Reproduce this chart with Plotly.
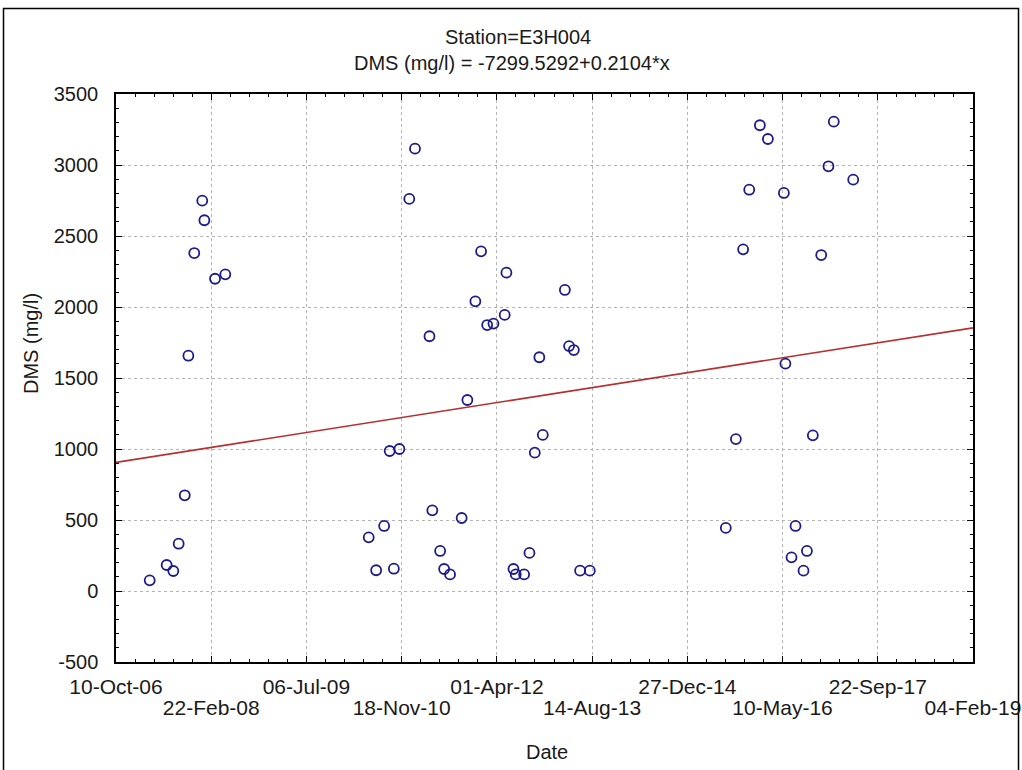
import plotly.graph_objects as go

# ---- data (x = Excel serial date, y = DMS mg/l) ----
date_serial = [
    39177, 39266, 39301, 39329, 39361, 39380, 39411, 39453, 39464, 39520, 39574,
    40327, 40366, 40408, 40437, 40459, 40488, 40540, 40570, 40646, 40661, 40702,
    40723, 40754, 40815, 40845, 40887, 40917, 40949, 40982, 41041, 41050, 41087,
    41099, 41143, 41171, 41199, 41223, 41241, 41357, 41379, 41404, 41437, 41488,
    42202, 42255, 42293, 42325, 42381, 42423, 42507, 42515, 42547, 42568, 42610,
    42628, 42659, 42703, 42741, 42769, 42871,
]
dms_values = [
    75, 183, 141, 333, 674, 1657, 2380, 2749, 2611, 2199, 2230,
    378, 146, 458, 986, 157, 1000, 2761, 3115, 1794, 568, 282,
    155, 117, 514, 1345, 2040, 2392, 1873, 1883, 1944, 2242, 155,
    117, 117, 268, 974, 1646, 1099, 2120, 1725, 1697, 143, 143,
    444, 1070, 2406, 2826, 3280, 3183, 2803, 1601, 237, 458, 143,
    282, 1096, 2366, 2991, 3305, 2897,
]

reg_intercept = -7299.5292
reg_slope = 0.2104

x_tick_vals = [39000, 39500, 40000, 40500, 41000, 41500, 42000, 42500, 43000, 43500]
x_tick_text = ["10-Oct-06", "22-Feb-08", "06-Jul-09", "18-Nov-10", "01-Apr-12",
               "14-Aug-13", "27-Dec-14", "10-May-16", "22-Sep-17", "04-Feb-19"]
y_tick_vals = [-500, 0, 500, 1000, 1500, 2000, 2500, 3000, 3500]
y_tick_text = ["-500", "0", "500", "1000", "1500", "2000", "2500", "3000", "3500"]

title_line1 = "Station=E3H004"
title_line2 = "DMS (mg/l) = -7299.5292+0.2104*x"
x_title = "Date"
y_title = "DMS (mg/l)"

FONT = "Liberation Sans, Arial, sans-serif"
W, H = 1022, 770
L, R, T, B = 116, 49, 94, 108
PW, PH = W - L - R, H - T - B

x_range = [x_tick_vals[0], x_tick_vals[-1]]
y_range = [y_tick_vals[0], y_tick_vals[-1]]


def px_x(px):
    return (px - L) / PW


def px_y(py):
    return (H - B - py) / PH


fig = go.Figure()

# regression line (from the stated equation)
fig.add_trace(go.Scatter(
    x=x_range,
    y=[reg_intercept + reg_slope * v for v in x_range],
    mode="lines",
    line=dict(color="#b5302f", width=1.6),
    xaxis="x2", yaxis="y",
    showlegend=False, hoverinfo="skip",
))

fig.add_trace(go.Scatter(
    x=date_serial, y=dms_values,
    mode="markers",
    marker=dict(symbol="circle-open", size=10, color="#1c1c8a",
                line=dict(width=1.8, color="#1c1c8a")),
    showlegend=False,
))

row2_vals = x_tick_vals[1::2]
row2_text = x_tick_text[1::2]

grid = dict(showgrid=True, gridcolor="#b4b4b4", gridwidth=1, griddash="dot")

fig.update_layout(
    width=W, height=H,
    margin=dict(l=L, r=R, t=T, b=B, pad=0, autoexpand=False),
    paper_bgcolor="white", plot_bgcolor="white",
    font=dict(family=FONT, size=20, color="#1a1a1a"),
    xaxis=dict(
        range=x_range, tickmode="array", tickvals=x_tick_vals,
        ticktext=[t if i % 2 == 0 else "" for i, t in enumerate(x_tick_text)],
        ticks="inside", ticklen=6, tickwidth=1, tickcolor="black",
        showline=True, linecolor="black", linewidth=1.5, mirror="ticks",
        zeroline=False, tickfont=dict(size=21), automargin=False,
        minor=dict(tickmode="linear", tick0=x_tick_vals[0], dtick=100,
                   ticks="inside", ticklen=3, tickcolor="black", showgrid=False),
        ticklabelstandoff=5,
        **grid,
    ),
    xaxis2=dict(
        overlaying="x", matches="x", anchor="y", side="bottom",
        range=x_range, tickmode="array", tickvals=row2_vals, ticktext=row2_text,
        ticks="", showline=False, showgrid=False, zeroline=False,
        tickfont=dict(size=21), ticklabelstandoff=31, automargin=False,
    ),
    yaxis=dict(
        range=y_range, tickmode="array", tickvals=y_tick_vals, ticktext=y_tick_text,
        ticks="inside", ticklen=6, tickwidth=1, tickcolor="black",
        showline=True, linecolor="black", linewidth=1.5, mirror="ticks",
        zeroline=False, tickfont=dict(size=20), automargin=False,
        minor=dict(tickmode="linear", tick0=y_tick_vals[0], dtick=100,
                   ticks="inside", ticklen=3, tickcolor="black", showgrid=False),
        ticklabelstandoff=12,
        **grid,
    ),
    annotations=[
        dict(text=title_line1, xref="paper", yref="paper",
             x=px_x(518), y=px_y(37),
             showarrow=False, xanchor="center", yanchor="middle",
             font=dict(size=20)),
        dict(text=title_line2, xref="paper", yref="paper",
             x=px_x(512), y=px_y(63),
             showarrow=False, xanchor="center", yanchor="middle",
             font=dict(size=20)),
        dict(text=x_title, xref="paper", yref="paper",
             x=px_x(547), y=px_y(752),
             showarrow=False, xanchor="center", yanchor="middle",
             font=dict(size=20)),
        dict(text=y_title, xref="paper", yref="paper", textangle=-90,
             x=px_x(31), y=px_y(344),
             showarrow=False, xanchor="center", yanchor="middle",
             font=dict(size=20)),
    ],
    shapes=[
        dict(type="rect", xref="paper", yref="paper",
             x0=px_x(3.5), x1=px_x(1018.5),
             y0=px_y(790), y1=px_y(8.5),
             line=dict(color="black", width=1.5), fillcolor="rgba(0,0,0,0)",
             layer="below"),
    ],
)

fig.write_html(
    "out.html",
    config={"displayModeBar": False},
    post_script="document.body.style.margin='0px';document.body.style.overflow='hidden';",
)
